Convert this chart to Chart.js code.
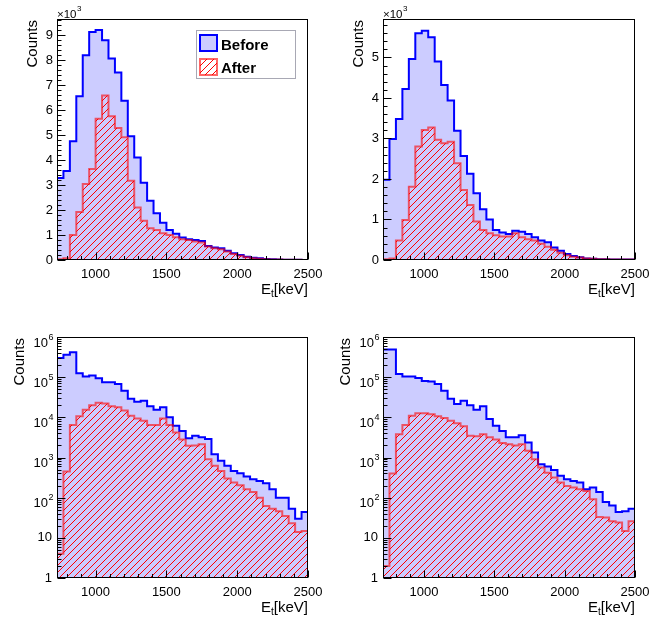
<!DOCTYPE html>
<html><head><meta charset="utf-8">
<script src="https://cdn.jsdelivr.net/npm/chart.js@4.4.1/dist/chart.umd.min.js"></script>
<style>
html,body{margin:0;padding:0;background:#fff;width:659px;height:617px;overflow:hidden}
.p{position:absolute}
canvas{display:block}
</style></head><body>
<div class="p" style="left:0;top:0"><canvas id="c0" width="330" height="308"></canvas></div>
<div class="p" style="left:330px;top:0"><canvas id="c1" width="329" height="308"></canvas></div>
<div class="p" style="left:0;top:308px"><canvas id="c2" width="330" height="309"></canvas></div>
<div class="p" style="left:330px;top:308px"><canvas id="c3" width="329" height="309"></canvas></div>
<script>
// ---------- data ----------
const seriesLabels = ['Before', 'After'];
const nBins = 39;
const xMax = 2500;
const xMinLeft = 728;
const xMinRight = 709;
const xTickValues = [1000, 1500, 2000, 2500];
const tlYTicks = [0, 1, 2, 3, 4, 5, 6, 7, 8, 9];       // x10^3
const trYTicks = [0, 1, 2, 3, 4, 5];                    // x10^3
const logYTicks = [1, 10, 100, 1000, 10000, 100000, 1000000];

const tlBefore = [3280,3560,4750,6560,8200,9130,9210,8800,8070,7510,6380,4960,4100,3090,2370,1870,1490,1200,1050,900,830,800,760,560,500,470,375,270,200,130,90,70,40,30,20,15,10,10,5];
const tlAfter  = [30,70,1000,1920,3040,3640,5660,6590,5760,5290,4920,3170,2100,1570,1270,1200,1070,1000,910,830,800,740,700,540,470,430,340,240,170,110,75,55,35,25,18,12,8,8,4];

const trBefore = [1980,2990,3480,4220,4960,5600,5660,5500,4900,4320,3940,3190,2570,2130,1650,1250,1000,740,680,640,720,700,640,560,480,440,310,230,150,100,70,40,30,20,20,10,10,10,10];
const trAfter  = [20,40,480,990,1810,2800,3210,3270,2970,2880,2920,2390,1730,1360,950,740,660,610,580,580,660,560,510,480,400,330,250,180,120,80,60,40,30,20,20,10,10,10,10];

const blBefore = [299000,360000,420000,126000,104000,110000,94000,75000,75000,68000,46000,29000,24500,26000,19000,15500,17800,10000,6200,4600,3000,3500,3200,2900,1200,826,620,464,405,335,287,261,228,162,100,100,53,30,44];
const blAfter  = [4,450,6400,10600,15500,20000,23000,22000,19000,17800,14700,11000,9400,8200,6400,6400,9400,6400,4200,2800,1960,2000,2150,910,620,464,300,237,203,162,138,100,62,53,46,35,23,14,14.7];

const brBefore = [490000,490000,120000,104000,104000,95000,80000,78000,68000,46000,29000,21500,26000,20000,15500,19000,9100,6200,4600,3200,3200,3600,2370,1330,680,600,490,350,287,261,237,162,178,138,78,64,44,46,53];
const brAfter  = [2,400,3800,6400,11000,12600,12600,12000,10600,9600,8200,7100,6000,3500,3400,3800,3200,2800,2300,2150,2000,2150,1470,910,560,420,316,237,195,178,162,147,91,33,32,26,24,14.7,26];

// ---------- styling ----------
const FONT = '"Liberation Sans", Arial, Helvetica, sans-serif';
const BLUE = '#0000ff';
const BLUE_FILL = 'rgb(204,204,255)';
const RED_LINE = 'rgba(255,0,0,0.6)';
const RED_HATCH = 'rgb(255,0,0)';

function histPoints(values, xMin) {
  const w = (xMax - xMin) / values.length;
  const pts = values.map((v, i) => ({x: xMin + i * w, y: v}));
  pts.push({x: xMax, y: values[values.length - 1]});
  return pts;
}

function makeHatch(ctx, size) {
  const c = document.createElement('canvas');
  c.width = c.height = size;
  const g = c.getContext('2d');
  g.strokeStyle = RED_HATCH;
  g.lineWidth = 1;
  g.beginPath();
  g.moveTo(0, size); g.lineTo(size, 0);
  g.moveTo(-size, size); g.lineTo(size, -size);
  g.moveTo(0, 2 * size); g.lineTo(2 * size, 0);
  g.stroke();
  return ctx.createPattern(c, 'repeat');
}

const rootPlugin = {
  id: 'rootStyle',
  afterDatasetsDraw(chart, args, opts) {
    const ctx = chart.ctx, a = chart.chartArea;
    const xs = chart.scales.x, ys = chart.scales.y;
    ctx.save();
    ctx.strokeStyle = '#000';
    ctx.lineWidth = 1;
    const L = Math.floor(a.left) + 0.5, R = Math.floor(a.right) - 0.5;
    const T = Math.floor(a.top) + 0.5, B = Math.floor(a.bottom) - 0.5;
    ctx.strokeRect(L, T, R - L, B - T);
    ctx.beginPath();
    for (let v = Math.ceil(xs.min / 100) * 100; v <= xs.max; v += 100) {
      const px = Math.round(xs.getPixelForValue(v)) + 0.5;
      const len = (v % 500 === 0) ? 7 : 3.5;
      ctx.moveTo(px, B); ctx.lineTo(px, B - len);
    }
    if (opts.log) {
      for (let k = 0; k <= 5; k++) {
        for (let m = 1; m <= 9; m++) {
          const v = m * Math.pow(10, k);
          if (v > ys.max) break;
          const py = Math.round(ys.getPixelForValue(v)) + 0.5;
          const len = (m === 1) ? 8 : 4;
          ctx.moveTo(L, py); ctx.lineTo(L + len, py);
        }
      }
    } else {
      for (let v = 0; v <= ys.max; v += 200) {
        const py = Math.round(ys.getPixelForValue(v)) + 0.5;
        const len = (v % 1000 === 0) ? 8 : 4;
        ctx.moveTo(L, py); ctx.lineTo(L + len, py);
      }
    }
    ctx.stroke();
    ctx.restore();
  },
  afterDraw(chart, args, opts) {
    const ctx = chart.ctx, a = chart.chartArea;
    const ys = chart.scales.y;
    ctx.save();
    ctx.fillStyle = '#000';
    ctx.textBaseline = 'alphabetic';
    ctx.textAlign = 'left';
    ctx.font = '15px ' + FONT;
    const wE = ctx.measureText('E').width, wK = ctx.measureText('[keV]').width;
    ctx.font = '10px ' + FONT;
    const wT = ctx.measureText('t').width;
    const xb = a.bottom + 34;
    let x0 = a.right - (wE + wT + wK);
    ctx.font = '15px ' + FONT; ctx.fillText('E', x0, xb);
    ctx.font = '10px ' + FONT; ctx.fillText('t', x0 + wE, xb + 3);
    ctx.font = '15px ' + FONT; ctx.fillText('[keV]', x0 + wE + wT, xb);
    ctx.save();
    ctx.translate(a.left - opts.yTitleOff, a.top + 1);
    ctx.rotate(-Math.PI / 2);
    ctx.textAlign = 'right';
    ctx.font = '15px ' + FONT;
    ctx.fillText('Counts', 0, 0);
    ctx.restore();
    if (opts.exp) {
      ctx.textAlign = 'left';
      ctx.font = '11.5px ' + FONT;
      const w = ctx.measureText('\u00d710').width;
      ctx.fillText('\u00d710', a.left, a.top - 0.7);
      ctx.font = '8px ' + FONT;
      ctx.fillText('3', a.left + w + 0.5, a.top - 8.3);
    }
    if (opts.log) {
      logYTicks.forEach(v => {
        const py = ys.getPixelForValue(v);
        const e = Math.round(Math.log10(v));
        ctx.textAlign = 'right';
        if (e <= 1) {
          ctx.font = '13px ' + FONT;
          ctx.textBaseline = 'middle';
          ctx.fillText(String(v), a.left - 5, py);
        } else {
          ctx.textBaseline = 'alphabetic';
          ctx.font = '9px ' + FONT;
          const ws = ctx.measureText(String(e)).width;
          ctx.fillText(String(e), a.left - 3.5, py + 2.5);
          ctx.font = '13px ' + FONT;
          ctx.fillText('10', a.left - 4 - ws, py + 9.5);
        }
      });
    }
    if (opts.legend) {
      const lx = 196, ly = 30, lw = 100, lh = 49;
      ctx.fillStyle = '#fff';
      ctx.fillRect(lx, ly, lw, lh);
      ctx.strokeStyle = '#a8a8b4';
      ctx.lineWidth = 1;
      ctx.strokeRect(lx + 0.5, ly + 0.5, lw - 1, lh - 1);
      const ds = chart.data.datasets;
      const before = ds.find(d => d.label === seriesLabels[0]);
      const after = ds.find(d => d.label === seriesLabels[1]);
      ctx.fillStyle = BLUE_FILL;
      ctx.fillRect(200, 35, 17, 16);
      ctx.strokeStyle = before.borderColor; ctx.lineWidth = 2;
      ctx.strokeRect(200, 35, 17, 16);
      ctx.fillStyle = '#fff';
      ctx.fillRect(200, 59, 17, 16);
      ctx.fillStyle = after.backgroundColor;
      ctx.fillRect(200, 59, 17, 16);
      ctx.strokeStyle = after.borderColor; ctx.lineWidth = 2;
      ctx.strokeRect(200, 59, 17, 16);
      ctx.fillStyle = '#000';
      ctx.font = 'bold 15px ' + FONT;
      ctx.textAlign = 'left';
      ctx.textBaseline = 'alphabetic';
      ctx.fillText(before.label, 221, 50);
      ctx.fillText(after.label, 221, 73.3);
    }
    ctx.restore();
  }
};

const panels = [
  {id: 'c0', before: tlBefore, after: tlAfter, xMin: xMinLeft, log: false, yMax: 9650, yTicks: tlYTicks,
   pad: {left: 0, top: 19, right: 22, bottom: 0}, yW: 57, xH: 48, yTitleOff: 20, legend: true},
  {id: 'c1', before: trBefore, after: trAfter, xMin: xMinRight, log: false, yMax: 5950, yTicks: trYTicks,
   pad: {left: 0, top: 19, right: 24, bottom: 0}, yW: 53, xH: 48, yTitleOff: 20, legend: false},
  {id: 'c2', before: blBefore, after: blAfter, xMin: xMinLeft, log: true, yMax: 1000000, yTicks: logYTicks,
   pad: {left: 0, top: 29, right: 22, bottom: 0}, yW: 57, xH: 39, yTitleOff: 33, legend: false},
  {id: 'c3', before: brBefore, after: brAfter, xMin: xMinRight, log: true, yMax: 1000000, yTicks: logYTicks,
   pad: {left: 0, top: 29, right: 24, bottom: 0}, yW: 53, xH: 39, yTitleOff: 33, legend: false}
];

panels.forEach(p => {
  const canvas = document.getElementById(p.id);
  const ctx = canvas.getContext('2d');
  const hatch = makeHatch(ctx, 7);
  const tickFont = {family: FONT, size: 13};
  new Chart(ctx, {
    type: 'line',
    data: {
      datasets: [
        {label: seriesLabels[1], data: histPoints(p.after, p.xMin), stepped: true,
         borderColor: RED_LINE, borderWidth: 2, backgroundColor: hatch,
         fill: p.log ? 'start' : 'origin', pointRadius: 0, tension: 0},
        {label: seriesLabels[0], data: histPoints(p.before, p.xMin), stepped: true,
         borderColor: BLUE, borderWidth: 2, backgroundColor: BLUE_FILL,
         fill: p.log ? 'start' : 'origin', pointRadius: 0, tension: 0}
      ]
    },
    options: {
      responsive: false,
      animation: false,
      events: [],
      layout: {padding: p.pad},
      plugins: {
        legend: {display: false},
        tooltip: {enabled: false},
        rootStyle: {log: p.log, exp: !p.log, legend: p.legend, yTitleOff: p.yTitleOff}
      },
      scales: {
        x: {
          type: 'linear', min: p.xMin, max: xMax,
          grid: {display: false, drawTicks: false}, border: {display: false},
          afterBuildTicks: s => { s.ticks = xTickValues.map(v => ({value: v})); },
          afterFit: s => { s.height = p.xH; },
          ticks: {font: tickFont, color: '#000', padding: 7, maxRotation: 0, autoSkip: false,
                  callback: v => String(v)}
        },
        y: p.log ? {
          type: 'logarithmic', min: 1, max: p.yMax,
          grid: {display: false, drawTicks: false}, border: {display: false},
          afterBuildTicks: s => { s.ticks = p.yTicks.map(v => ({value: v})); },
          afterFit: s => { s.width = p.yW; },
          ticks: {display: false}
        } : {
          type: 'linear', min: 0, max: p.yMax,
          grid: {display: false, drawTicks: false}, border: {display: false},
          afterBuildTicks: s => { s.ticks = p.yTicks.map(v => ({value: v * 1000})); },
          afterFit: s => { s.width = p.yW; },
          ticks: {font: tickFont, color: '#000', padding: 4, autoSkip: false,
                  callback: v => String(Math.round(v / 1000))}
        }
      }
    },
    plugins: [rootPlugin]
  });
});
</script>
</body></html>
